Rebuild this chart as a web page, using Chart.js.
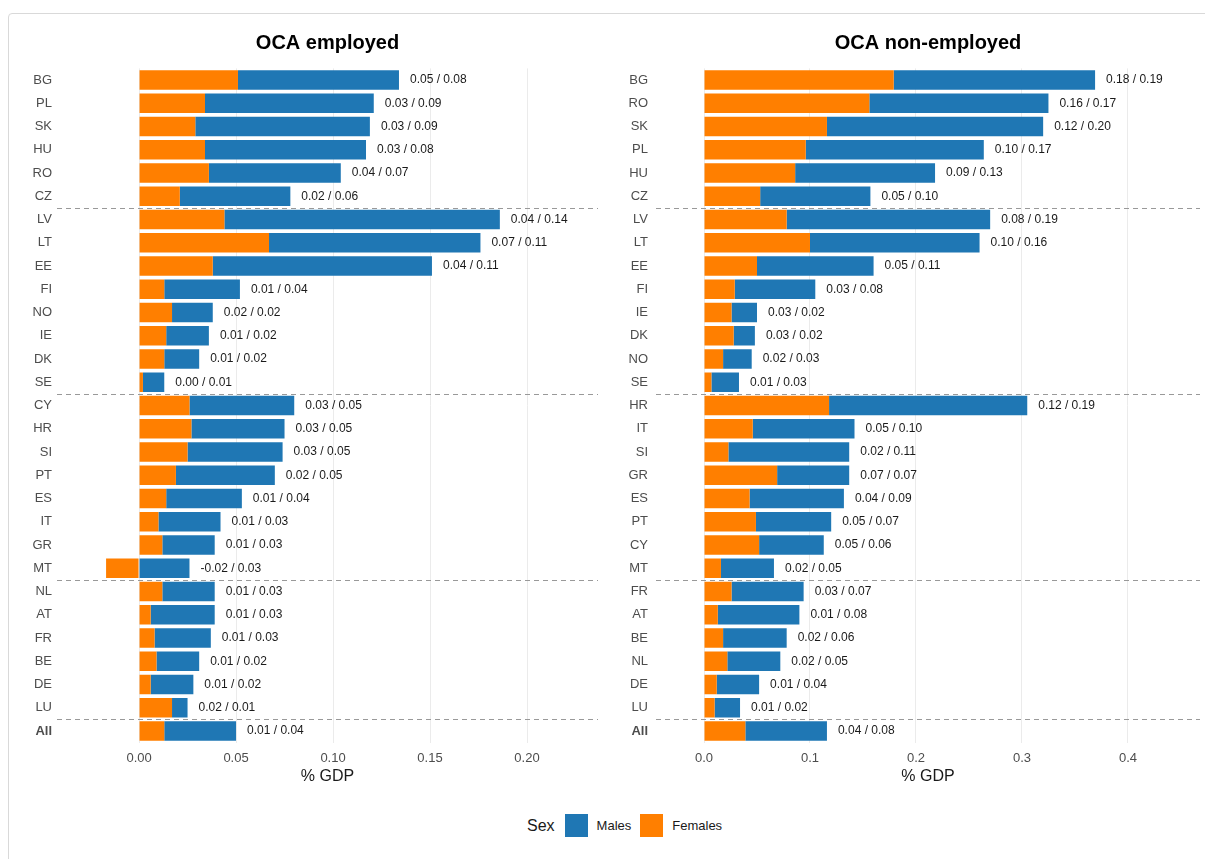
<!DOCTYPE html>
<html>
<head>
<meta charset="utf-8">
<script src="https://cdn.jsdelivr.net/npm/chart.js@4"></script>
<style>
  body { margin: 0; background: #fff; font-family: "Liberation Sans", Arial, sans-serif; }
  #frame { position: absolute; left: 8px; top: 13px; width: 1210px; height: 860px; border: 1px solid #d9d9d9; border-radius: 4px; }
  #c1 { position: absolute; left: 0; top: 0; }
  #c2 { position: absolute; left: 600px; top: 0; }
  #legend { position: absolute; top: 814px; left: 527px; height: 23px; display: flex; align-items: center; color: #1a1a1a; }
  #legend .sw { width: 23px; height: 23px; display: inline-block; }
</style>
</head>
<body>
<div id="frame"></div>
<canvas id="c1" width="600" height="786"></canvas>
<canvas id="c2" width="605" height="786"></canvas>
<div id="legend">
  <span style="font-size:16px;margin-right:10px">Sex</span>
  <span class="sw" style="background:#1f77b4"></span>
  <span style="font-size:13px;margin:0 9px 0 9px">Males</span>
  <span class="sw" style="background:#ff7f00"></span>
  <span style="font-size:13px;margin-left:9px">Females</span>
</div>
<script>
// OCA employed
const empCountries = ['BG','PL','SK','HU','RO','CZ','LV','LT','EE','FI','NO','IE','DK','SE',
  'CY','HR','SI','PT','ES','IT','GR','MT','NL','AT','FR','BE','DE','LU','All'];
const empFemales = [0.051, 0.034, 0.029, 0.034, 0.036, 0.021, 0.044, 0.067, 0.038, 0.013, 0.017, 0.014, 0.013, 0.002,
  0.026, 0.027, 0.025, 0.019, 0.014, 0.010, 0.012, -0.017, 0.012, 0.006, 0.008, 0.009, 0.006, 0.017, 0.013];
const empMales = [0.083, 0.087, 0.090, 0.083, 0.068, 0.057, 0.142, 0.109, 0.113, 0.039, 0.021, 0.022, 0.018, 0.011,
  0.054, 0.048, 0.049, 0.051, 0.039, 0.032, 0.027, 0.026, 0.027, 0.033, 0.029, 0.022, 0.022, 0.008, 0.037];

// OCA non-employed
const nonCountries = ['BG','RO','SK','PL','HU','CZ','LV','LT','EE','FI','IE','DK','NO','SE',
  'HR','IT','SI','GR','ES','PT','CY','MT','FR','AT','BE','NL','DE','LU','All'];
const nonFemales = [0.179, 0.156, 0.116, 0.096, 0.086, 0.053, 0.078, 0.100, 0.050, 0.029, 0.026, 0.028, 0.018, 0.007,
  0.118, 0.046, 0.023, 0.069, 0.043, 0.049, 0.052, 0.016, 0.026, 0.013, 0.018, 0.022, 0.012, 0.010, 0.039];
const nonMales = [0.190, 0.169, 0.204, 0.168, 0.132, 0.104, 0.192, 0.160, 0.110, 0.076, 0.024, 0.020, 0.027, 0.026,
  0.187, 0.096, 0.114, 0.068, 0.089, 0.071, 0.061, 0.050, 0.068, 0.077, 0.060, 0.050, 0.040, 0.024, 0.077];

const groupBreaks = [6, 14, 22, 28];
const empTicks = [0, 0.05, 0.10, 0.15, 0.20];
const nonTicks = [0, 0.1, 0.2, 0.3, 0.4];

const blue = '#1f77b4';
const orange = '#ff7f00';

Chart.defaults.font.family = '"Liberation Sans", Arial, sans-serif';

const extrasPlugin = {
  id: 'extras',
  afterDatasetsDraw(chart) {
    const ctx = chart.ctx;
    const area = chart.chartArea;
    const y = chart.scales.y;
    ctx.save();
    // group separators
    ctx.strokeStyle = '#999999';
    ctx.lineWidth = 1;
    ctx.setLineDash([5, 4]);
    groupBreaks.forEach(b => {
      const py = Math.round(y.getPixelForValue(b - 0.5)) + 0.5;
      ctx.beginPath();
      ctx.moveTo(area.left, py);
      ctx.lineTo(area.right, py);
      ctx.stroke();
    });
    ctx.setLineDash([]);
    // value labels
    const fem = chart.data.datasets[0].data;
    const mal = chart.data.datasets[1].data;
    const meta = chart.getDatasetMeta(1);
    ctx.fillStyle = '#1a1a1a';
    ctx.font = '12px "Liberation Sans", Arial, sans-serif';
    ctx.textBaseline = 'middle';
    ctx.textAlign = 'left';
    meta.data.forEach((el, i) => {
      ctx.fillText(fem[i].toFixed(2) + ' / ' + mal[i].toFixed(2), el.x + 11, el.y);
    });
    ctx.restore();
  }
};

function makeChart(id, title, labels, females, males, ticks, xmin, xmax, yWidth, yPad, padRight) {
  return new Chart(document.getElementById(id), {
    type: 'bar',
    data: {
      labels: labels,
      datasets: [
        { label: 'Females', data: females, backgroundColor: orange, categoryPercentage: 1, barPercentage: 0.84 },
        { label: 'Males', data: males, backgroundColor: blue, categoryPercentage: 1, barPercentage: 0.84 }
      ]
    },
    options: {
      responsive: false,
      animation: false,
      indexAxis: 'y',
      layout: { padding: { left: 0, right: padRight, top: 0, bottom: 0 } },
      plugins: {
        legend: { display: false },
        tooltip: { enabled: false },
        title: {
          display: true,
          text: title,
          fullSize: false,
          color: '#000',
          font: { size: 20, weight: 'bold' },
          padding: { top: 31, bottom: 13.4 }
        }
      },
      scales: {
        x: {
          stacked: true,
          min: xmin,
          max: xmax,
          afterBuildTicks: s => { s.ticks = ticks.map(v => ({ value: v })); },
          afterFit: s => { s.height = 43.4; },
          grid: { color: '#ebebeb', lineWidth: 1, drawTicks: false },
          border: { display: false },
          ticks: {
            padding: 8,
            color: '#4d4d4d',
            font: { size: 13 },
            callback: v => ticks === empTicks ? v.toFixed(2) : v.toFixed(1)
          },
          title: { display: true, text: '% GDP', color: '#1a1a1a', font: { size: 16 }, padding: 0 }
        },
        y: {
          stacked: true,
          afterFit: s => { s.width = yWidth; },
          grid: { display: false, drawTicks: false },
          border: { display: false },
          ticks: {
            padding: yPad,
            color: '#4d4d4d',
            font: c => (c.tick && c.tick.label === 'All') ? { size: 13, weight: 'bold' } : { size: 13 }
          }
        }
      }
    },
    plugins: [extrasPlugin]
  });
}

makeChart('c1', 'OCA employed', empCountries, empFemales, empMales, empTicks, -0.0423, 0.2366, 57, 5, 2);
makeChart('c2', 'OCA non-employed', nonCountries, nonFemales, nonMales, nonTicks, -0.0453, 0.468, 56, 8, 5);
</script>
</body>
</html>
